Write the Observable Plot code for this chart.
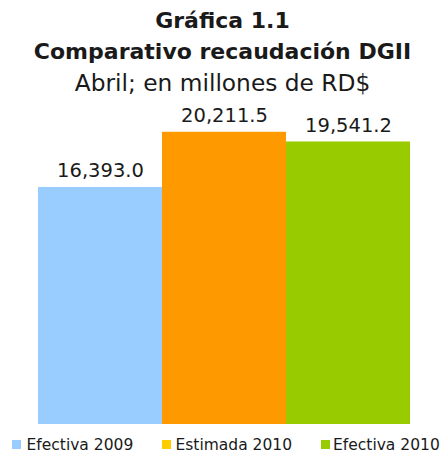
<!DOCTYPE html>
<html>
<head>
<meta charset="utf-8">
<script src="https://cdn.jsdelivr.net/npm/d3@7"></script>
<script src="https://cdn.jsdelivr.net/npm/@observablehq/plot@0.6"></script>
<style>
  html, body { margin: 0; padding: 0; background: #fff; }
  body { width: 445px; height: 456px; position: relative; overflow: hidden; font-family: "DejaVu Sans", sans-serif; color: #1a1a1a; }
  #title { position: absolute; left: 0; top: 5px; width: 445px; text-align: center; }
  #title div { height: 31px; line-height: 31px; font-size: 22px; white-space: nowrap; }
  #title .b { font-weight: bold; }
  #title .s { font-size: 23.3px; }
  #chart { position: absolute; left: 0; top: 90px; }
  #legend { position: absolute; left: 0; top: 435px; width: 445px; height: 20px; }
  .sw { position: absolute; top: 5px; width: 9px; height: 9px; }
  .lt { position: absolute; top: 0; font-size: 15.5px; line-height: 20px; white-space: nowrap; }
</style>
</head>
<body>
<div id="title">
  <div class="b">Gráfica 1.1</div>
  <div class="b">Comparativo recaudación DGII</div>
  <div class="s">Abril; en millones de RD$</div>
</div>
<div id="chart"></div>
<div id="legend"></div>
<script>
const categories = ["Efectiva 2009", "Estimada 2010", "Efectiva 2010"];
const values = [16393.0, 20211.5, 19541.2];
const barColors = ["#99CCFF", "#FF9900", "#99CC00"];
const legendColors = ["#99CCFF", "#FFCC00", "#99CC00"];
const swatchLeft = [12, 161.5, 321];
const labelLeft = [26.5, 175.5, 333];

const data = categories.map((c, i) => ({category: c, value: values[i]}));
const fmt = d3.format(",.1f");

const plot = Plot.plot({
  width: 445,
  height: 340,
  marginLeft: 37,
  marginRight: 34,
  marginTop: 0,
  marginBottom: 6,
  style: {fontFamily: "DejaVu Sans, sans-serif", background: "transparent"},
  x: {domain: categories, padding: 0, axis: null},
  y: {domain: [0, 23100], axis: null},
  color: {domain: categories, range: barColors},
  marks: [
    Plot.barY(data, {x: "category", y: "value", fill: "category"}),
    Plot.text(data, {x: "category", y: "value", text: d => fmt(d.value), lineAnchor: "bottom", dy: -10, fontSize: 19.5, fill: "#1a1a1a"})
  ]
});
document.getElementById("chart").appendChild(plot);

const legend = document.getElementById("legend");
categories.forEach((c, i) => {
  const sw = document.createElement("div");
  sw.className = "sw";
  sw.style.left = swatchLeft[i] + "px";
  sw.style.background = legendColors[i];
  const t = document.createElement("div");
  t.className = "lt";
  t.style.left = labelLeft[i] + "px";
  t.textContent = c;
  legend.appendChild(sw);
  legend.appendChild(t);
});
</script>
</body>
</html>
